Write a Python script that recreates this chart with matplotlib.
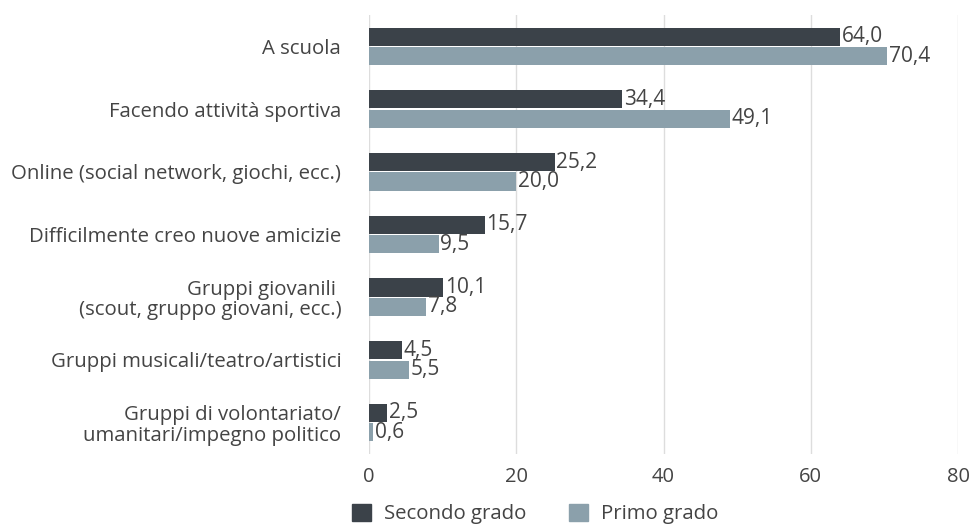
import matplotlib
matplotlib.use("Agg")
import matplotlib.pyplot as plt
import numpy as np
from matplotlib.patches import Patch

plt.rcParams['font.family'] = ['Open Sans', 'DejaVu Sans']

categories = ["A scuola", "Facendo attività sportiva", "Online (social network, giochi, ecc.)",
              "Difficilmente creo nuove amicizie", "Gruppi giovanili \n(scout, gruppo giovani, ecc.)",
              "Gruppi musicali/teatro/artistici", "Gruppi di volontariato/\numanitari/impegno politico"]
secondo = [64.0, 34.4, 25.2, 15.7, 10.1, 4.5, 2.5]
primo = [70.4, 49.1, 20.0, 9.5, 7.8, 5.5, 0.6]
series_names = ["Secondo grado", "Primo grado"]
xticks = [0, 20, 40, 60, 80]

c_dark = "#3b4249"
c_light = "#8ba0ab"
txt = "#444444"

fig = plt.figure(figsize=(9.77, 5.27), dpi=100)
ax = fig.add_axes([369/977, 1-454/527, (958-369)/977, (454-15)/527])

y = np.arange(len(categories))
h = 0.29
off = 0.155
b1 = ax.barh(y - off, secondo, height=h, color=c_dark, zorder=3)
b2 = ax.barh(y + off, primo, height=h, color=c_light, zorder=3)

def fmt(v):
    return f"{v:.1f}".replace(".", ",")

for bars, vals in ((b1, secondo), (b2, primo)):
    for b, v in zip(bars, vals):
        ax.text(b.get_width() + 0.2, b.get_y() + b.get_height()/2, fmt(v),
                va="center", ha="left", fontsize=15, color=txt, zorder=4)

ax.set_ylim(len(categories) - 0.5, -0.5)
ax.set_xlim(0, 80)
ax.set_xticks(xticks)
ax.set_xticklabels([str(t) for t in xticks], fontsize=14.5, color=txt)
ax.set_yticks(y)
ax.set_yticklabels(categories, fontsize=14.7, color=txt, linespacing=1.05)
ax.tick_params(axis='y', length=0, pad=20)
ax.tick_params(axis='x', length=0, pad=9)
for s in ax.spines.values():
    s.set_visible(False)
ax.grid(axis='x', color="#dddddd", linewidth=1, zorder=0)
ax.set_axisbelow(True)

handles = [Patch(color=c_dark), Patch(color=c_light)]
fig.legend(handles, series_names, loc="center", bbox_to_anchor=(0.548, 1-514/527), ncol=2,
           frameon=False, fontsize=14.7, handlelength=0.9, handleheight=0.9,
           columnspacing=2.1, handletextpad=0.65, labelcolor=txt, borderpad=0)

fig.savefig("out.png", dpi=100)
